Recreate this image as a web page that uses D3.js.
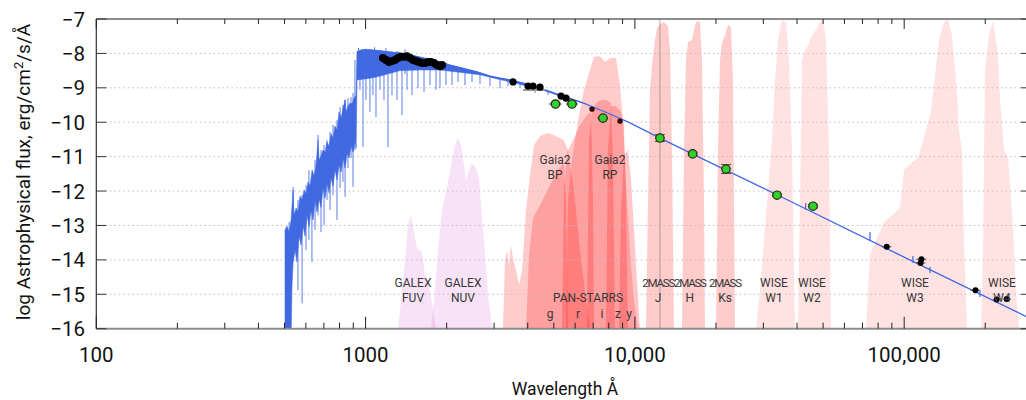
<!DOCTYPE html>
<html><head><meta charset="utf-8">
<script src="https://cdn.jsdelivr.net/npm/d3@7"></script>
<style>
html,body{margin:0;padding:0;background:#fff;}
svg{display:block;font-family:Roboto,"Noto Sans",sans-serif;}
</style></head><body>
<svg id="chart" width="1026" height="400"></svg>
<script>
// ---------- DATA ----------
// model spectrum: upper / lower envelope of the noisy band [wavelength Å, log flux]
const specUpper = [[502,-13.13],[511,-13.02],[520,-13.19],[529,-12.84],[538,-11.97],[542,-12.70],[552,-12.49],[561,-12.61],[571,-12.15],[581,-12.26],[591,-11.97],[601,-12.09],[611,-11.74],[622,-11.85],[633,-11.39],[644,-11.56],[655,-11.24],[666,-10.52],[672,-11.10],[683,-10.98],[695,-10.81],[707,-10.87],[719,-10.58],[732,-10.69],[744,-10.34],[757,-10.46],[770,-10.11],[784,-10.23],[797,-9.70],[811,-9.88],[825,-9.59],[839,-9.35],[846,-9.70],[861,-9.53],[876,-9.44],[891,-9.47],[906,-9.30],[922,-9.21],[929,-7.96],[970,-7.90],[1038,-7.90],[1131,-7.93],[1232,-7.96],[1342,-7.99],[1526,-8.08],[1690,-8.16],[1889,-8.25],[2058,-8.34],[2339,-8.45],[2592,-8.54],[2897,-8.66],[3156,-8.72],[3438,-8.77],[3976,-8.89],[4638,-9.06],[5272,-9.21],[6417,-9.44],[8083,-9.76],[9590,-10.02],[12390,-10.46],[17450,-11.03],[34580,-12.15],[96470,-13.86],[293200,-15.70]];
const specLower = [[502,-16.2],[529,-16.2],[533,-14.73],[538,-14.06],[547,-13.72],[556,-14.06],[566,-13.31],[576,-13.57],[586,-13.02],[596,-13.31],[606,-12.70],[617,-13.02],[627,-12.55],[638,-12.84],[649,-12.26],[660,-12.61],[672,-12.23],[683,-12.47],[695,-11.91],[707,-12.20],[719,-11.77],[732,-12.06],[744,-11.62],[757,-11.85],[770,-11.39],[784,-11.68],[797,-11.24],[811,-11.45],[825,-11.04],[839,-11.33],[854,-10.90],[868,-11.04],[883,-10.69],[899,-10.87],[914,-10.52],[922,-10.75],[929,-8.77],[1038,-8.72],[1131,-8.66],[1342,-8.50],[1592,-8.48],[1889,-8.48],[2242,-8.55],[2660,-8.62],[3156,-8.76],[3588,-8.86],[3976,-8.95],[4638,-9.09],[5272,-9.24],[6417,-9.44]];
// spectral spikes / absorption lines [wavelength, top, bottom]
const specSpikes = [[511,-13.08,-16.2],[520,-12.90,-16.2],[538,-11.88,-14.06],[561,-12.26,-14.88],[581,-12.12,-15.26],[601,-11.83,-13.72],[616,-11.39,-13.42],[632,-11.62,-14.06],[649,-11.10,-13.13],[666,-10.37,-12.70],[683,-10.81,-13.19],[701,-10.66,-12.99],[719,-10.52,-12.26],[738,-10.28,-12.55],[757,-10.08,-12.12],[783,-9.94,-12.84],[804,-9.56,-11.91],[824,-9.50,-11.74],[839,-9.35,-12.17],[860,-9.30,-11.33],[883,-9.27,-11.04],[898,-9.15,-11.88],[913,-8.19,-10.81],[941,-7.84,-8.6],[953,-7.90,-9.06],[978,-7.96,-10.72],[1003,-7.86,-9.35],[1038,-7.96,-9.70],[1065,-7.93,-9.21],[1080,-7.82,-8.7],[1093,-7.93,-9.85],[1131,-7.90,-9.06],[1170,-7.96,-9.35],[1190,-7.84,-8.6],[1211,-7.96,-10.72],[1253,-7.96,-9.21],[1308,-7.93,-9.35],[1365,-7.99,-9.79],[1400,-7.88,-8.6],[1425,-8.02,-9.06],[1487,-8.02,-9.21],[1565,-8.08,-9.01],[1648,-8.13,-9.12],[1734,-8.13,-8.92],[1826,-8.19,-9.06],[1889,-8.22,-9.01],[1989,-8.28,-8.92],[2094,-8.34,-8.92],[2204,-8.40,-8.83],[2339,-8.45,-8.92],[2484,-8.51,-8.83],[2660,-8.57,-8.89],[2897,-8.66,-8.95],[3156,-8.72,-9.01],[3379,-8.77,-8.95],[3745,-8.86,-9.01],[4257,-8.98,-9.15],[4757,-9.09,-9.21],[6812,-9.56,-9.65]];

// filter transmission outlines [wavelength, log flux height]
const galexFUV = [[1319,-16],[1342,-15.46],[1365,-14.88],[1401,-14.01],[1437,-12.99],[1474,-12.70],[1513,-13.19],[1552,-13.66],[1620,-13.77],[1662,-14.44],[1734,-14.88],[1780,-15.46],[1826,-16]];
const galexNUV = [[1749,-16],[1795,-15.17],[1857,-13.72],[1922,-12.55],[2006,-11.88],[2094,-11.10],[2148,-10.66],[2204,-10.46],[2261,-10.66],[2320,-11.24],[2360,-11.68],[2421,-11.39],[2484,-11.19],[2570,-11.33],[2637,-11.62],[2705,-12.70],[2776,-13.80],[2848,-15.02],[2922,-15.75],[2972,-16]];
const gaiaBP = [[3237,-16],[3293,-14.01],[3350,-13.72],[3408,-14.15],[3467,-13.57],[3527,-13.95],[3619,-14.30],[3713,-14.73],[3809,-14.30],[3942,-12.55],[4079,-11.53],[4221,-10.66],[4443,-10.40],[4757,-10.31],[5093,-10.40],[5453,-10.52],[5644,-10.81],[5941,-11.97],[6255,-13.72],[6583,-15.17],[6812,-16]];
const gaiaRP = [[5548,-16],[5644,-12.26],[5840,-11.10],[6150,-9.94],[6471,-9.06],[6812,-8.48],[7049,-8.10],[7420,-8.08],[7744,-8.25],[8083,-8.13],[8508,-8.13],[8804,-8.92],[9032,-9.94],[9346,-12.26],[9672,-14.15],[9923,-15.17],[10270,-16]];
const psG = [[3942,-16],[4045,-13.86],[4184,-12.78],[4443,-12.41],[4838,-11.83],[5181,-11.39],[5453,-11.16],[5548,-12.26],[5644,-16]];
const psR = [[5362,-16],[5453,-11.97],[5596,-10.87],[5891,-10.52],[6255,-10.08],[6640,-9.79],[6871,-9.70],[6989,-12.26],[7049,-16]];
const psI = [[6640,-16],[6754,-10.52],[6930,-9.65],[7296,-9.38],[7811,-9.35],[8151,-9.44],[8292,-11.10],[8435,-16]];
const psZ = [[7811,-16],[7946,-10.81],[8151,-9.53],[8508,-9.53],[8880,-9.70],[9110,-10.08],[9267,-12.26],[9426,-16]];
const psY = [[8729,-16],[8880,-12.55],[9110,-10.95],[9426,-10.81],[9672,-11.68],[9923,-13.13],[10180,-14.59],[10445,-16]];
const tmassJ = [[10995,-16],[11190,-12.26],[11380,-9.06],[11570,-8.34],[11875,-7.61],[12080,-7.26],[12390,-7.15],[12820,-7.09],[13270,-7.20],[13500,-7.90],[13730,-10.81],[13970,-16]];
const tmassH = [[14960,-16],[15220,-10.81],[15480,-8.19],[15750,-7.67],[16300,-7.61],[16720,-7.17],[17010,-7.06],[17450,-7.09],[17750,-8.19],[18060,-12.26],[18210,-16]];
const tmassKs = [[20010,-16],[20350,-10.81],[20700,-8.19],[21050,-7.70],[21610,-7.47],[22170,-7.17],[22750,-7.23],[23140,-8.77],[23540,-16]];
const wiseW1 = [[28170,-16],[29140,-14.88],[30160,-13.42],[31210,-11.97],[32290,-10.52],[33130,-8.77],[34000,-7.61],[35180,-7.03],[36400,-7.09],[37350,-8.19],[38320,-10.81],[39310,-16]];
const wiseW2 = [[40330,-16],[41030,-12.26],[41740,-8.19],[42820,-7.90],[43930,-7.76],[45460,-7.47],[47040,-7.32],[48690,-7.09],[49950,-7.0],[51240,-7.61],[52580,-10.81],[53480,-16]];
const wiseW3 = [[72130,-16],[74650,-13.86],[78580,-13.42],[84130,-12.90],[90090,-12.70],[96470,-12.49],[99830,-11.39],[106900,-11.16],[112500,-11.04],[118500,-10.43],[125800,-9.70],[130200,-8.63],[134700,-7.61],[140600,-7.09],[145400,-7.0],[150500,-7.47],[155800,-8.77],[159800,-10.23],[163900,-10.81],[166800,-13.42],[171100,-16]];
const wiseW4 = [[192900,-16],[196200,-13.72],[199500,-8.48],[206500,-7.47],[213700,-7.03],[219200,-7.61],[223000,-8.05],[226900,-9.35],[234800,-10.81],[242900,-11.01],[251400,-12.55],[260200,-14.88],[266900,-16]];

// observed UV spectrum points
const uvSpecPts = [[1160,-8.13],[1191,-8.19],[1221,-8.25],[1253,-8.22],[1286,-8.19],[1319,-8.13],[1353,-8.10],[1389,-8.10],[1425,-8.08],[1462,-8.13],[1500,-8.19],[1539,-8.22],[1579,-8.25],[1620,-8.28],[1662,-8.28],[1705,-8.25],[1749,-8.25],[1795,-8.28],[1841,-8.34],[1889,-8.37],[1922,-8.34]];
// optical photometry (black)
const optPts = [[3527,-8.83],[4010,-8.95],[4184,-8.95],[4443,-8.98],[5317,-9.24],[5548,-9.30]];
const optBar = [3842,4638,-9.06];
// small dark points
const smallPts = [[6930,-9.62],[8804,-9.97]];
// green fitted photometry [wl, logF, wlLo, wlHi, err]
const greenPts = [[5073,-9.47,4800,5350,0.03],[5840,-9.47,5550,6150,0.03],[7613,-9.88,7250,7950,0.03],[12390,-10.46,11900,12900,0.1],[16390,-10.92,15700,17100,0.05],[21790,-11.36,20900,22700,0.13],[33710,-12.12,32300,35200,0.04],[45860,-12.44,43900,47900,0.05]];
// IR photometry (black) [wl, logF, wlLo, wlHi]
const irPts = [[86100,-13.62,82500,89800],[115900,-13.98,111000,121000],[115000,-14.09,110500,120000],[184000,-14.88,176000,192000],[220500,-15.15,214000,227000],[240300,-15.14,233000,248000]];
// model markers [wl, from, to]
const modelMarks = [[43080,-12.35,-12.55],[74650,-13.19,-13.45],[107800,-13.89,-14.09],[124700,-14.21,-14.38],[191200,-14.88,-15.08]];
const jLineWl = 12390;

// axis ticks and labels
const xMajor = [100,1000,10000,100000];
const xTickLabels = ["100","1000","10,000","100,000"];
const yTicks = [-16,-15,-14,-13,-12,-11,-10,-9,-8,-7];
const yGrid = [-15,-14,-13,-12,-11,-10,-9,-8];

// filter labels
const bandSurvey = ["GALEX","GALEX","2MASS","2MASS","2MASS","WISE","WISE","WISE","WISE"];
const bandName = ["FUV","NUV","J","H","Ks","W1","W2","W3","W4"];
const bandWl = [1500,2300,12200,16000,21610,32850,45460,109700,230800];
const gaiaName = ["BP","RP"];
const gaiaWl = [5050,8080];
const psName = ["g","r","i","z","y"];
const psWl = [4840,6150,7550,8650,9510];
const psTitleWl = 6700;

// ---------- CHART ----------
const plot = {left:96.3, right:1028.7, top:19, bottom:328.7};
const x = d3.scaleLog().domain([100,290000]).range([plot.left, plot.right]);
const y = d3.scaleLinear().domain([-16,-7]).range([plot.bottom, plot.top]);
const svg = d3.select("#chart");
svg.append("defs").append("clipPath").attr("id","clip").append("rect")
  .attr("x",plot.left).attr("y",plot.top).attr("width",plot.right-plot.left).attr("height",plot.bottom-plot.top);
const g = svg.append("g").attr("clip-path","url(#clip)");

const filters = [
  {d:galexFUV, c:"rgba(220,110,220,0.2)"},
  {d:galexNUV, c:"rgba(220,110,220,0.2)"},
  {d:gaiaBP, c:"rgba(255,0,0,0.2)"},
  {d:gaiaRP, c:"rgba(255,0,0,0.2)"},
  {d:psG, c:"rgba(255,0,0,0.22)"},
  {d:psR, c:"rgba(255,0,0,0.22)"},
  {d:psI, c:"rgba(255,0,0,0.22)"},
  {d:psZ, c:"rgba(255,0,0,0.22)"},
  {d:psY, c:"rgba(255,0,0,0.22)"},
  {d:tmassJ, c:"rgba(255,0,0,0.2)"},
  {d:tmassH, c:"rgba(255,0,0,0.2)"},
  {d:tmassKs, c:"rgba(255,0,0,0.2)"},
  {d:wiseW1, c:"rgba(255,0,0,0.11)"},
  {d:wiseW2, c:"rgba(255,0,0,0.11)"},
  {d:wiseW3, c:"rgba(255,0,0,0.11)"},
  {d:wiseW4, c:"rgba(255,0,0,0.11)"}
];
const fArea = d3.area().x(d=>x(d[0])).y0(y(-16)).y1(d=>y(d[1]));
filters.forEach(f=>g.append("path").attr("d",fArea(f.d)).attr("fill",f.c));

// grid
g.selectAll(".grid").data(yGrid).join("line")
  .attr("x1",plot.left+9).attr("x2",plot.right-9)
  .attr("y1",d=>y(d)).attr("y2",d=>y(d))
  .attr("stroke","#bdbdbd").attr("stroke-width",1).attr("stroke-dasharray","1.5,3");

// J vertical line
g.append("line").attr("x1",x(jLineWl)).attr("x2",x(jLineWl)).attr("y1",plot.top).attr("y2",plot.bottom)
  .attr("stroke","rgba(110,110,110,0.55)").attr("stroke-width",1);

// spectrum
const BLUE = "#4169e1";
const line = d3.line().x(d=>x(d[0])).y(d=>y(d[1]));
const bandUp = specUpper.filter(d=>d[0]<=6417);
const poly = bandUp.concat(specLower.slice().reverse());
g.append("path").attr("d",line(poly)+"Z").attr("fill",BLUE).attr("stroke",BLUE).attr("stroke-width",0.6).attr("stroke-linejoin","round");
g.selectAll(".spike").data(specSpikes).join("line")
  .attr("x1",d=>x(d[0])).attr("x2",d=>x(d[0])).attr("y1",d=>y(d[1])).attr("y2",d=>y(d[2]))
  .attr("stroke",BLUE).attr("stroke-width",1).attr("stroke-opacity",0.85);
g.append("path").attr("d",line(specUpper.filter(d=>d[0]>=929))).attr("fill","none").attr("stroke",BLUE).attr("stroke-width",1.3);

// model markers
g.selectAll(".mm").data(modelMarks).join("line")
  .attr("x1",d=>x(d[0])).attr("x2",d=>x(d[0])).attr("y1",d=>y(d[1])).attr("y2",d=>y(d[2]))
  .attr("stroke",BLUE).attr("stroke-width",1.2);

// optical grey bar
g.append("line").attr("x1",x(optBar[0])).attr("x2",x(optBar[1])).attr("y1",y(optBar[2])).attr("y2",y(optBar[2]))
  .attr("stroke","#9a9a9a").attr("stroke-width",2);

// UV spectrum points
g.selectAll(".uv").data(uvSpecPts).join("circle")
  .attr("cx",d=>x(d[0])).attr("cy",d=>y(d[1])).attr("r",4).attr("fill","#000");
g.selectAll(".opt").data(optPts).join("circle")
  .attr("cx",d=>x(d[0])).attr("cy",d=>y(d[1])).attr("r",3.6).attr("fill","#000");
g.selectAll(".sm").data(smallPts).join("circle")
  .attr("cx",d=>x(d[0])).attr("cy",d=>y(d[1])).attr("r",2.6).attr("fill","#3a0505");

// IR black points with x-err
g.selectAll(".irx").data(irPts).join("line")
  .attr("x1",d=>x(d[2])).attr("x2",d=>x(d[3])).attr("y1",d=>y(d[1])).attr("y2",d=>y(d[1]))
  .attr("stroke","#555").attr("stroke-width",1);
g.selectAll(".ir").data(irPts).join("circle")
  .attr("cx",d=>x(d[0])).attr("cy",d=>y(d[1])).attr("r",3).attr("fill","#000");

// green points with error bars
const ge = g.append("g");
ge.selectAll(".gx").data(greenPts).join("line")
  .attr("x1",d=>x(d[2])).attr("x2",d=>x(d[3])).attr("y1",d=>y(d[1])).attr("y2",d=>y(d[1]))
  .attr("stroke","#555").attr("stroke-width",1);
ge.selectAll(".gy").data(greenPts).join("line")
  .attr("x1",d=>x(d[0])).attr("x2",d=>x(d[0])).attr("y1",d=>y(d[1]-d[4])).attr("y2",d=>y(d[1]+d[4]))
  .attr("stroke","#222").attr("stroke-width",1.5);
ge.selectAll(".gc1").data(greenPts).join("line")
  .attr("x1",d=>x(d[0])-5).attr("x2",d=>x(d[0])+5).attr("y1",d=>y(d[1]+d[4])).attr("y2",d=>y(d[1]+d[4]))
  .attr("stroke","#555").attr("stroke-width",1);
ge.selectAll(".gc2").data(greenPts).join("line")
  .attr("x1",d=>x(d[0])-5).attr("x2",d=>x(d[0])+5).attr("y1",d=>y(d[1]-d[4])).attr("y2",d=>y(d[1]-d[4]))
  .attr("stroke","#555").attr("stroke-width",1);
ge.selectAll(".gp").data(greenPts).join("circle")
  .attr("cx",d=>x(d[0])).attr("cy",d=>y(d[1])).attr("r",4.2)
  .attr("fill","#2fd12f").attr("stroke","#2a2a10").attr("stroke-width",1.2);

// ---------- AXES ----------
const ax = svg.append("g");
ax.append("line").attr("x1",plot.left).attr("x2",1026).attr("y1",plot.top).attr("y2",plot.top).attr("stroke","#8c8c8c").attr("stroke-width",2);
ax.append("line").attr("x1",plot.left).attr("x2",1026).attr("y1",plot.bottom).attr("y2",plot.bottom).attr("stroke","#8c8c8c").attr("stroke-width",2);
ax.append("line").attr("x1",plot.left).attr("x2",plot.left).attr("y1",plot.top).attr("y2",plot.bottom).attr("stroke","#333").attr("stroke-width",1.2);

const allX = x.ticks();
allX.forEach(t=>{
  const major = xMajor.includes(t);
  const px = x(t);
  if (px > 1026) return;
  ax.append("line").attr("x1",px).attr("x2",px).attr("y1",plot.top).attr("y2",plot.top+(major?10:5)).attr("stroke","#222").attr("stroke-width",1);
  ax.append("line").attr("x1",px).attr("x2",px).attr("y1",plot.bottom).attr("y2",plot.bottom-(major?12:6)).attr("stroke","#222").attr("stroke-width",1);
});
xMajor.forEach((t,i)=>{
  ax.append("text").attr("x",x(t)).attr("y",362).attr("text-anchor","middle")
    .attr("font-size",20.5).attr("fill","#111").text(xTickLabels[i]);
});
yTicks.forEach(t=>{
  ax.append("line").attr("x1",plot.left).attr("x2",plot.left+10).attr("y1",y(t)).attr("y2",y(t)).attr("stroke","#333").attr("stroke-width",1);
  ax.append("line").attr("x1",plot.right).attr("x2",plot.right-8).attr("y1",y(t)).attr("y2",y(t)).attr("stroke","#333").attr("stroke-width",1);
  ax.append("text").attr("x",85).attr("y",y(t)+7.5).attr("text-anchor","end")
    .attr("font-size",20.5).attr("fill","#111").text("\u2212"+Math.abs(t));
});

// axis titles
svg.append("text").attr("x",565).attr("y",395).attr("text-anchor","middle").attr("font-size",17.5).attr("fill","#111").text("Wavelength Å");
const yt = svg.append("text").attr("transform","translate(30,172) rotate(-90)").attr("text-anchor","middle").attr("font-size",19).attr("fill","#111");
yt.append("tspan").text("log Astrophysical flux, erg/cm");
yt.append("tspan").attr("dy",-7).attr("font-size",13).text("2");
yt.append("tspan").attr("dy",7).text("/s/Å");

// filter labels
const lab = svg.append("g").attr("fill","#363636").attr("text-anchor","middle").attr("font-size",12);
bandWl.forEach((w,i)=>{
  const t1 = lab.append("text").attr("x",x(w)).attr("y",287).text(bandSurvey[i]);
  if (bandSurvey[i]==="2MASS") t1.attr("letter-spacing",-1.2).attr("font-size",11.5);
  lab.append("text").attr("x",x(w)).attr("y",302).text(bandName[i]);
});
gaiaWl.forEach((w,i)=>{
  lab.append("text").attr("x",x(w)).attr("y",164).text("Gaia2");
  lab.append("text").attr("x",x(w)).attr("y",179).text(gaiaName[i]);
});
lab.append("text").attr("x",x(psTitleWl)).attr("y",302).text("PAN-STARRS");
psWl.forEach((w,i)=>{
  lab.append("text").attr("x",x(w)).attr("y",318).text(psName[i]);
});
</script>
</body></html>
